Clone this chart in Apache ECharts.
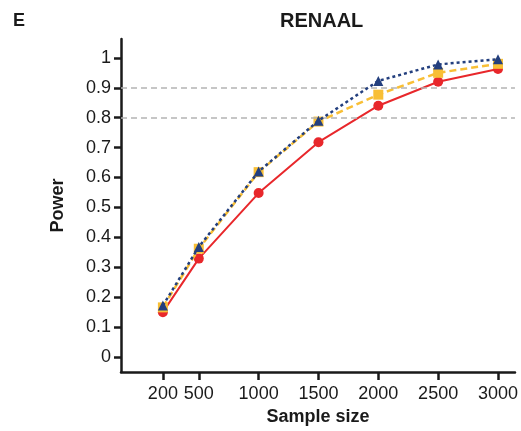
<!DOCTYPE html>
<html><head><meta charset="utf-8">
<script src="https://cdn.jsdelivr.net/npm/echarts@6/dist/echarts.min.js"></script>
<style>html,body{margin:0;padding:0;background:#fff}#c{width:521px;height:431px}</style>
</head><body><div id="c"></div>
<script>
const sampleSizes = [200, 500, 1000, 1500, 2000, 2500, 3000];
const seriesRed = [0.150, 0.329, 0.548, 0.718, 0.840, 0.920, 0.963];
const seriesYellow = [0.166, 0.362, 0.618, 0.787, 0.877, 0.950, 0.980];
const seriesBlue = [0.172, 0.368, 0.620, 0.790, 0.923, 0.978, 0.995];
const yTicks = [0, 0.1, 0.2, 0.3, 0.4, 0.5, 0.6, 0.7, 0.8, 0.9, 1];
const refLines = [0.8, 0.9];

const pairs = arr => sampleSizes.map((x, i) => [x, arr[i]]);
const font = 'Liberation Sans, Arial, sans-serif';
const chart = echarts.init(document.getElementById('c'), null, {renderer: 'canvas'});
chart.setOption({
  animation: false,
  title: [
    {text: 'RENAAL', left: 275, top: 6, textStyle: {fontFamily: font, fontSize: 20, fontWeight: 'bold', color: '#1a1a1a'}},
    {text: 'E', left: 8, top: 7, textStyle: {fontFamily: font, fontSize: 18, fontWeight: 'bold', color: '#1a1a1a'}}
  ],
  grid: {left: 121, top: 39, right: 6, bottom: 57},
  xAxis: {
    type: 'value', min: -150, max: 3142,
    name: 'Sample size', nameLocation: 'middle', nameGap: 36,
    nameTextStyle: {fontFamily: font, fontSize: 18, fontWeight: 'bold', color: '#1a1a1a'},
    axisLine: {show: true, onZero: false, lineStyle: {color: '#1a1a1a', width: 2.5}},
    axisTick: {show: true, customValues: sampleSizes, length: 8, lineStyle: {color: '#1a1a1a', width: 2.5}},
    axisLabel: {customValues: sampleSizes, margin: 13, fontFamily: font, fontSize: 18, color: '#1a1a1a',
      formatter: v => String(v)},
    splitLine: {show: false}
  },
  yAxis: {
    type: 'value', min: -0.05, max: 1.063,
    name: 'Power', nameLocation: 'middle', nameGap: 54, nameRotate: 90,
    nameTextStyle: {fontFamily: font, fontSize: 18, fontWeight: 'bold', color: '#1a1a1a'},
    axisLine: {show: true, onZero: false, lineStyle: {color: '#1a1a1a', width: 2.5}},
    axisTick: {show: true, customValues: yTicks, length: 7, lineStyle: {color: '#1a1a1a', width: 2.5}},
    axisLabel: {customValues: yTicks, margin: 10, fontFamily: font, fontSize: 18, color: '#1a1a1a',
      formatter: v => String(v)},
    splitLine: {show: false}
  },
  series: [
    {
      type: 'line', data: pairs(seriesRed), symbol: 'circle', symbolSize: 10,
      itemStyle: {color: '#e8272b'}, lineStyle: {color: '#e8272b', width: 2}, z: 3,
      markLine: {
        silent: true, symbol: 'none', label: {show: false},
        lineStyle: {color: '#b4b4b4', type: [6, 4], width: 1.5},
        data: refLines.map(v => ({yAxis: v}))
      }
    },
    {
      type: 'line', data: pairs(seriesYellow), symbol: 'rect', symbolSize: 10,
      itemStyle: {color: '#f8bf36'}, lineStyle: {color: '#f8bf36', width: 2.5, type: [7, 4]}, z: 4
    },
    {
      type: 'line', data: pairs(seriesBlue), symbol: 'triangle', symbolSize: 10,
      itemStyle: {color: '#233f7e'}, lineStyle: {color: '#233f7e', width: 2.5, type: [3, 3]}, z: 5
    }
  ]
});
</script></body></html>
